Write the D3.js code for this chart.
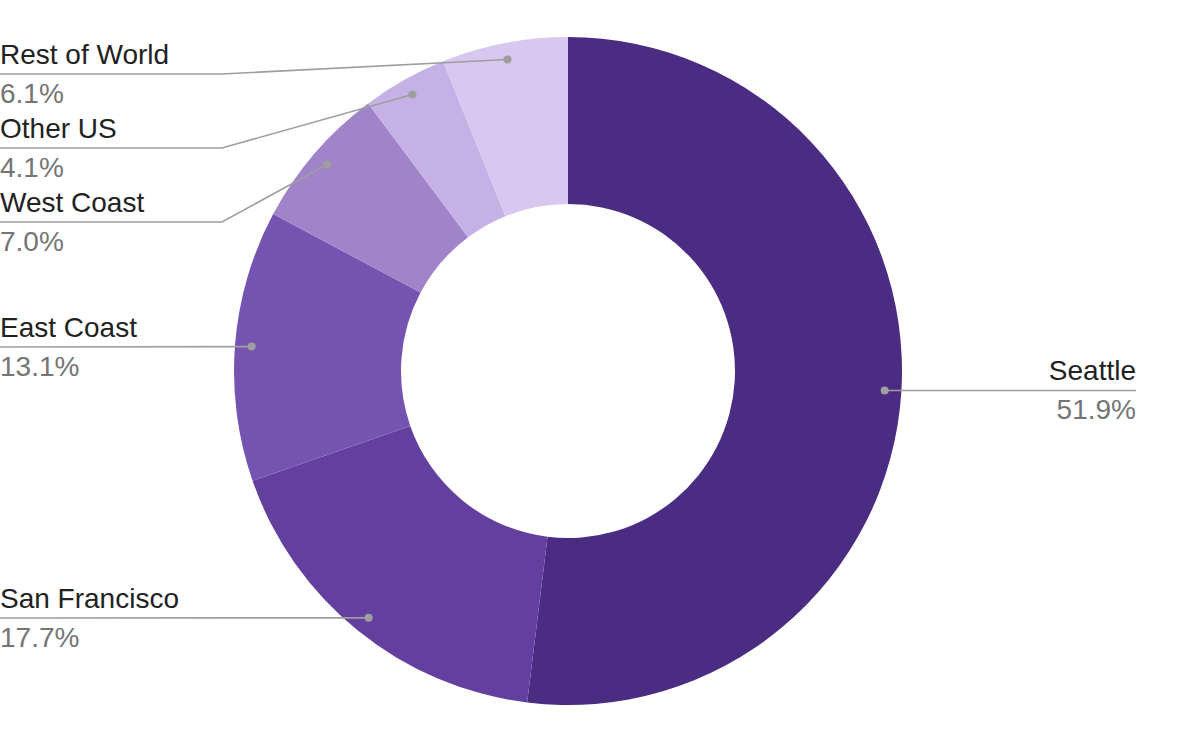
<!DOCTYPE html>
<html>
<head>
<meta charset="utf-8">
<script src="https://cdn.jsdelivr.net/npm/d3@7"></script>
<style>
  html, body { margin: 0; padding: 0; background: #fff; }
  svg { display: block; font-family: 'Liberation Sans', Arial, sans-serif; }
</style>
</head>
<body>
<svg id="chart" width="1200" height="742"></svg>
<script>
const categories = ['Seattle', 'San Francisco', 'East Coast', 'West Coast', 'Other US', 'Rest of World']
const shares = [51.9, 17.7, 13.1, 7.0, 4.1, 6.1]
const sliceColors = ['#4a2c82', '#6340a0', '#7454b0', '#a083c9', '#c5b1e5', '#d8c7ef']
// y of the horizontal leader segment for labels on the left side
const leftLabelLines = { 'Rest of World': 74, 'Other US': 148, 'West Coast': 222, 'East Coast': 347, 'San Francisco': 618 }

const WIDTH = 1200
const HEIGHT = 742
const CX = 568
const CY = 371
const OUTER_R = 334
const INNER_R = 167
const DOT_R = OUTER_R * 0.95
const ELBOW_X = 222
const RIGHT_EDGE = 1136
const FONT_SIZE = 28

const svg = d3.select('#chart')
const root = svg.append('g').attr('transform', `translate(${CX},${CY})`)

const data = categories.map((name, i) => ({ name, value: shares[i], color: sliceColors[i] }))

const pie = d3.pie()
  .value(d => d.value)
  .sort(null)

const arc = d3.arc()
  .innerRadius(INNER_R)
  .outerRadius(OUTER_R)

const arcs = pie(data)

root.selectAll('path.slice')
  .data(arcs)
  .enter()
  .append('path')
  .attr('class', 'slice')
  .attr('d', arc)
  .attr('fill', d => d.data.color)

const labels = svg.append('g').attr('class', 'labels')

arcs.forEach(a => {
  const mid = (a.startAngle + a.endAngle) / 2
  const dx = CX + DOT_R * Math.sin(mid)
  const dy = CY - DOT_R * Math.cos(mid)
  const onRight = Math.sin(mid) > 0
  let lineY, pts, textX, anchor

  if (onRight) {
    lineY = dy
    pts = [[dx, dy], [RIGHT_EDGE, dy]]
    textX = RIGHT_EDGE
    anchor = 'end'
  } else {
    lineY = leftLabelLines[a.data.name]
    if (Math.abs(lineY - dy) < 2) {
      pts = [[dx, dy], [0, lineY]]
    } else {
      pts = [[dx, dy], [ELBOW_X, lineY], [0, lineY]]
    }
    textX = 0
    anchor = 'start'
  }

  labels.append('path')
    .attr('d', d3.line()(pts))
    .attr('fill', 'none')
    .attr('stroke', '#9e9e9e')
    .attr('stroke-width', 1.6)

  labels.append('circle')
    .attr('cx', dx)
    .attr('cy', dy)
    .attr('r', 4)
    .attr('fill', '#9e9e9e')

  labels.append('text')
    .attr('x', textX)
    .attr('y', lineY - 10)
    .attr('text-anchor', anchor)
    .attr('font-size', FONT_SIZE)
    .attr('fill', '#222222')
    .text(a.data.name)

  labels.append('text')
    .attr('x', textX)
    .attr('y', lineY + 29)
    .attr('text-anchor', anchor)
    .attr('font-size', FONT_SIZE)
    .attr('fill', '#757575')
    .text(d3.format('.1f')(a.data.value) + '%')
})
</script>
</body>
</html>
